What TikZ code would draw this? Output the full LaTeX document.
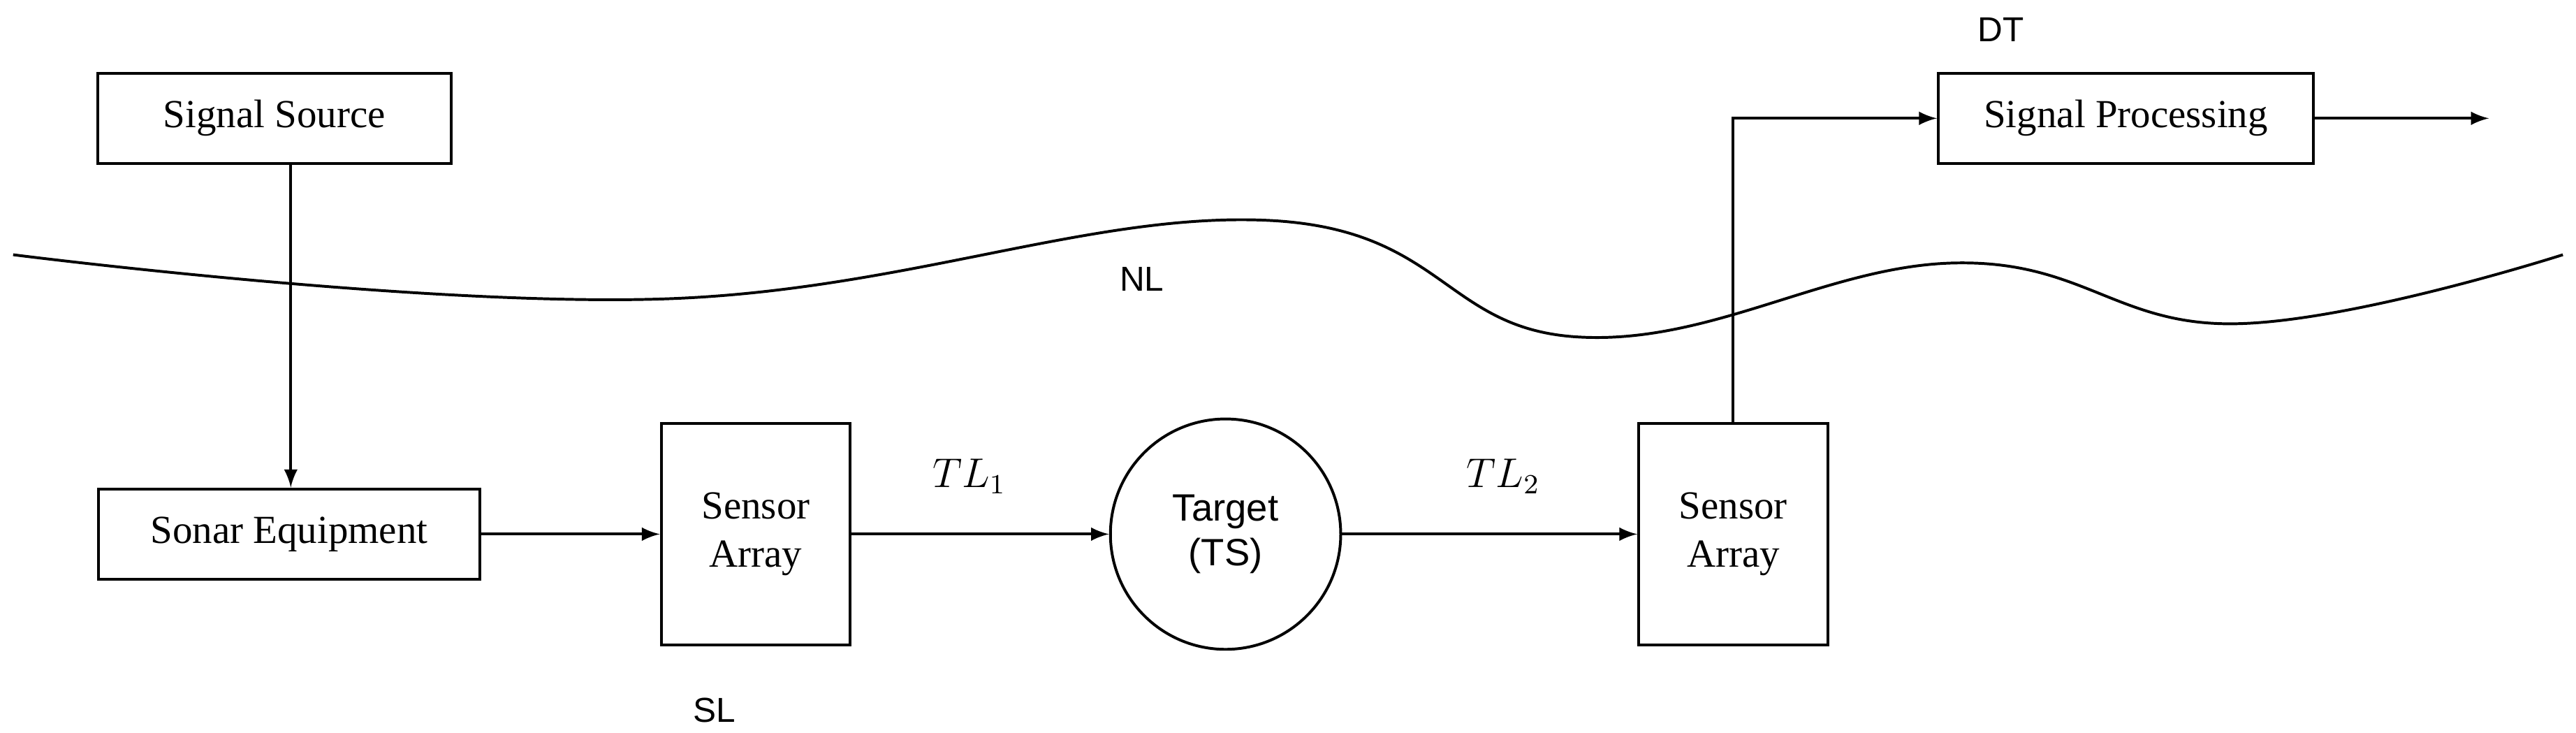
\documentclass[tikz,border=0pt]{standalone}
\usepackage{fontspec}
\setmainfont{Liberation Serif}
\newfontfamily\sansfont{Liberation Sans}
\usetikzlibrary{positioning}
\usetikzlibrary{calc}
\begin{document}
\begin{tikzpicture}[>=latex, x=0.0167cm, y=-0.0167cm,
	blk/.style={draw, thick, minimum height=0.92cm, font=\fontsize{11.5}{14}\selectfont},
	arr/.style={->, thick},
	lbl/.style={font=\sansfont\fontsize{10}{12}\selectfont}]
		\useasboundingbox (0,0) rectangle (1568,446);
		%wave
		\draw[thick] plot[smooth, tension=0.7] coordinates {(8,155) (400,182) (770,134) (960,205) (1190,160) (1360,197) (1560,155)};
		
		%nodes
		\node[blk, minimum width=3.59cm] (src) at (167,72) {Signal Source};
		\node[blk, minimum width=3.87cm] (sonar) at (176,325) {Sonar Equipment};
		\node[blk, minimum width=1.92cm, minimum height=2.25cm, align=center] (arrA) at (460,325) {Sensor\\Array};
		\node[draw, thick, circle, minimum size=2.34cm, align=center, font=\sansfont\fontsize{11}{13}\selectfont] (tgt) at (746,325) {Target\\(TS)};
		\node[blk, minimum width=1.92cm, minimum height=2.25cm, align=center] (arrB) at (1055,325) {Sensor\\Array};
		\node[blk, minimum width=3.81cm] (proc) at (1294,72) {Signal Processing};
		\coordinate (out) at (1515,72);
		
		%labels
		\node[font=\fontsize{12}{14}\selectfont] at (590,290) {$TL_1$};
		\node[font=\fontsize{12}{14}\selectfont] at (915,290) {$TL_2$};
		\node[lbl] at (435,432) {SL};
		\node[lbl] at (1218,18) {DT};
		\node[lbl] at (695,170) {NL};
		
		%connectors
		\draw[arr] (src.south -| 177,0) -- (sonar.north -| 177,0);
		\draw[arr] (sonar) -- (arrA);
		\draw[arr] (arrA) -- (tgt);
		\draw[arr] (tgt) -- (arrB);
		\draw[arr] (arrB.north) |- (proc.west);
		\draw[arr] (proc) -- (out);
\end{tikzpicture}
\end{document}
